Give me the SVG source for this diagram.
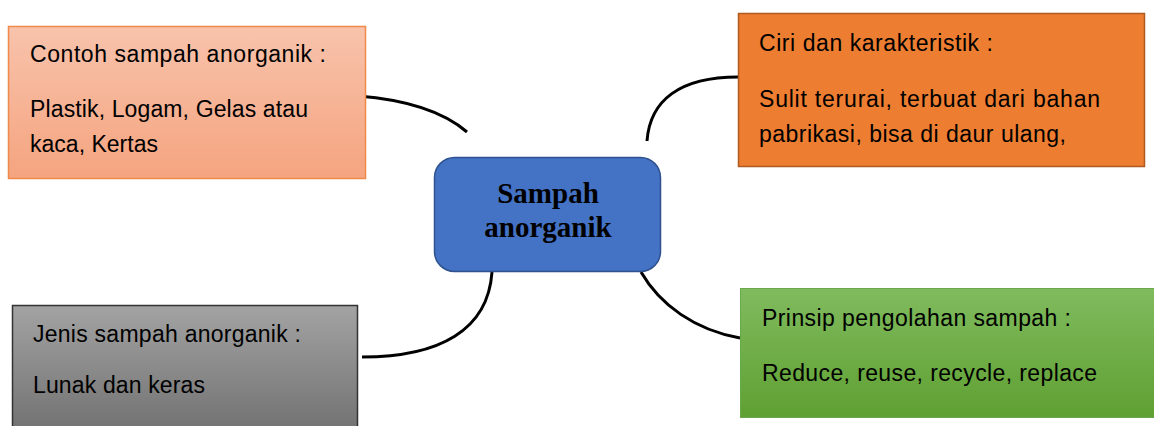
<svg xmlns="http://www.w3.org/2000/svg" width="1154" height="426" viewBox="0 0 1154 426">
<defs>
<linearGradient id="gSalmon" x1="0" y1="0" x2="0" y2="1"><stop offset="0" stop-color="#F8C3AC"/><stop offset="1" stop-color="#F5A47F"/></linearGradient>
<linearGradient id="gGray" x1="0" y1="0" x2="0" y2="1"><stop offset="0" stop-color="#A3A3A3"/><stop offset="1" stop-color="#707070"/></linearGradient>
<linearGradient id="gGreen" x1="0" y1="0" x2="0" y2="1"><stop offset="0" stop-color="#80BB5E"/><stop offset="1" stop-color="#5FA032"/></linearGradient>
</defs>
<style>
.t{font-family:"Liberation Sans",Arial,sans-serif;font-size:23px;fill:#000}
.c{font-family:"Liberation Serif","Times New Roman",serif;font-size:29px;font-weight:bold;fill:#000;text-anchor:middle}
.conn{fill:none;stroke:#000;stroke-width:3}
</style>
<rect width="1154" height="426" fill="#fff"/>
<g id="connectors">
<path class="conn" d="M358 96 C410 100 445 113 467 132"/>
<path class="conn" d="M647 141 C650 100 680 77 738 77"/>
<path class="conn" d="M492 272 C488 330 440 357 362 357"/>
<path class="conn" d="M641 272 C660 305 695 330 740 338"/>
</g>
<g id="node-contoh">
<rect x="8.5" y="26.5" width="357" height="152" fill="url(#gSalmon)" stroke="#F0894A" stroke-width="1.5"/>
<text class="t" x="30" y="62" textLength="296">Contoh sampah anorganik :</text>
<text class="t" x="30" y="117" textLength="278">Plastik, Logam, Gelas atau</text>
<text class="t" x="30" y="152" textLength="128">kaca, Kertas</text>
</g>
<g id="node-ciri">
<rect x="738.5" y="13.5" width="406" height="153" fill="#ED7D31" stroke="#AE5A21" stroke-width="1.5"/>
<text class="t" x="759" y="51" textLength="234">Ciri dan karakteristik :</text>
<text class="t" x="759" y="107" textLength="341">Sulit terurai, terbuat dari bahan</text>
<text class="t" x="759" y="142" textLength="307">pabrikasi, bisa di daur ulang,</text>
</g>
<g id="node-center">
<rect x="434.5" y="157.5" width="226" height="114" rx="20" fill="#4472C4" stroke="#2F528F" stroke-width="1.5"/>
<text class="c" x="548" y="203">Sampah</text>
<text class="c" x="548" y="237">anorganik</text>
</g>
<g id="node-jenis">
<rect x="12.5" y="305.5" width="345" height="130" fill="url(#gGray)" stroke="#333" stroke-width="1.5"/>
<text class="t" x="33" y="342" textLength="268">Jenis sampah anorganik :</text>
<text class="t" x="33" y="393" textLength="172">Lunak dan keras</text>
</g>
<g id="node-prinsip">
<rect x="740.5" y="288.5" width="420" height="129" fill="url(#gGreen)" stroke="#6AA84F" stroke-width="1"/>
<text class="t" x="762" y="326" textLength="309">Prinsip pengolahan sampah :</text>
<text class="t" x="762" y="381" textLength="335">Reduce, reuse, recycle, replace</text>
</g>
</svg>
